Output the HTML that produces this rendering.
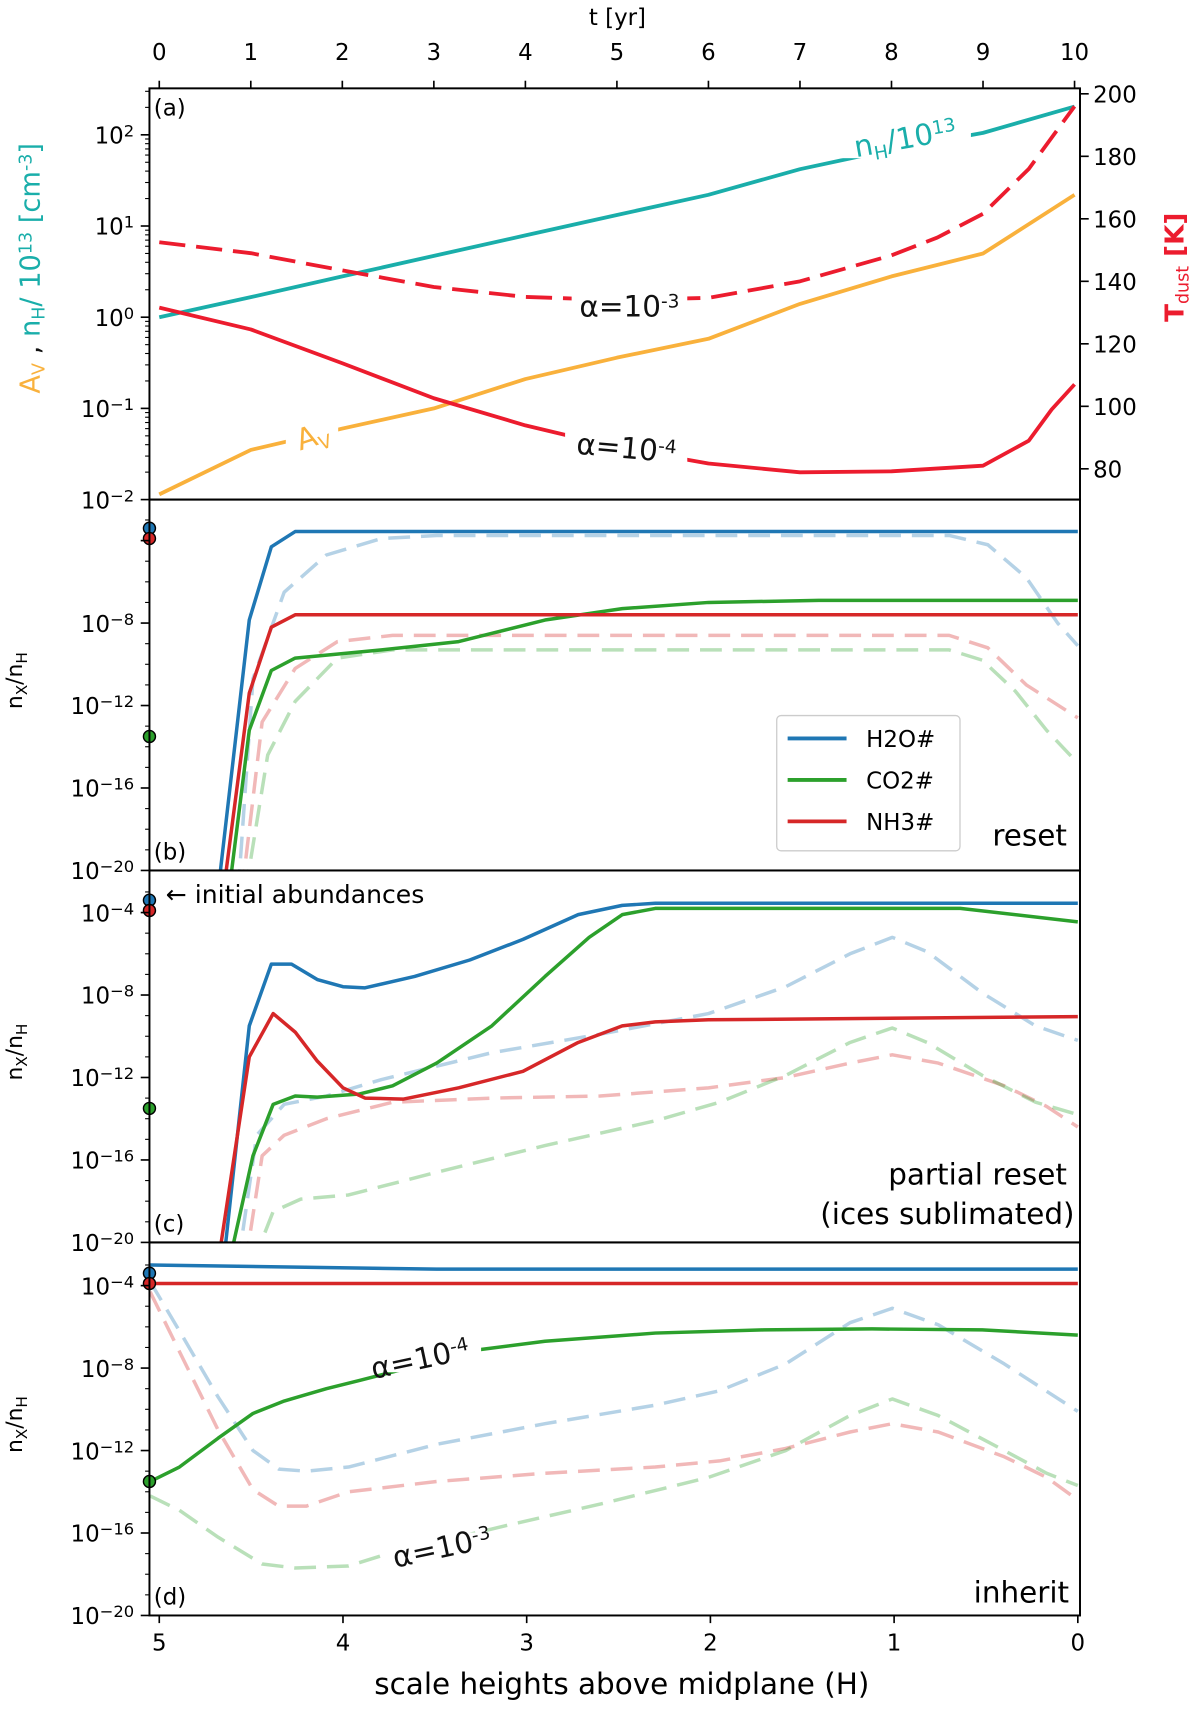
<!DOCTYPE html>
<html><head><meta charset="utf-8"><style>
html,body{margin:0;padding:0;background:#fff;}
svg{display:block;font-family:"DejaVu Sans","Liberation Sans",sans-serif;}
</style></head><body>
<svg id="fig" width="1200" height="1714" viewBox="0 0 1100 1571.33" preserveAspectRatio="none" xmlns="http://www.w3.org/2000/svg">
<defs>
<clipPath id="ca"><rect x="137" y="81" width="853" height="377"/></clipPath>
<clipPath id="cb"><rect x="137" y="458" width="853" height="340"/></clipPath>
<clipPath id="cc"><rect x="137" y="798" width="853" height="341"/></clipPath>
<clipPath id="cd"><rect x="137" y="1139" width="853" height="342"/></clipPath>
</defs>
<g id="layer"></g>
</svg>
<script>
// ---------- Panel (a) data ----------
const tYears = [0,1,2,3,4,5,6,7,8,9,10];
const nHvals = [1,1.66,2.8,4.7,7.9,13.2,22,42,69,105,204];
const AvVals = [0.0114,0.035,0.06,0.1,0.21,0.36,0.58,1.4,2.8,5,22];
const tTsolid = [0,1,2,3,4,5,6,7,8,9,9.5,9.75,10];
const TdustA4 = [131.6,124.6,113.8,102.6,93.9,86.9,81.7,78.9,79.2,81,89,99,107];
const tTdash = [0,1,2,3,4,5,6,7,8,8.5,9,9.5,10];
const TdustA3 = [152.5,149,143.5,138.2,135,134,134.7,140,148.3,154,161.6,176,196];
const tTicks = [0,1,2,3,4,5,6,7,8,9,10];
const TTicks = [80,100,120,140,160,180,200];
// ---------- Panel (b) reset (H, log10 abundance) ----------
const bH2O_H=[4.68,4.51,4.39,4.26,0], bH2O_v=[-21,-7.85,-4.3,-3.56,-3.56];
const bH2Od_H=[4.57,4.49,4.32,4.09,3.79,3.49,0.7,0.49,0.28,0.11,0], bH2Od_v=[-21,-10.7,-6.5,-4.7,-3.9,-3.75,-3.75,-4.2,-5.8,-8,-9.1];
const bNH3_H=[4.65,4.51,4.39,4.26,0], bNH3_v=[-21,-11.4,-8.2,-7.6,-7.6];
const bNH3d_H=[4.55,4.44,4.26,4.03,3.73,0.7,0.49,0.28,0], bNH3d_v=[-21,-12.8,-10.2,-8.9,-8.6,-8.6,-9.2,-11,-12.6];
const bCO2_H=[4.62,4.51,4.39,4.26,3.79,3.37,2.9,2.48,2.01,1.41,0], bCO2_v=[-21,-13.2,-10.3,-9.7,-9.3,-8.9,-7.85,-7.3,-7,-6.9,-6.9];
const bCO2d_H=[4.53,4.41,4.26,4.03,3.73,0.7,0.52,0.34,0.17,0], bCO2d_v=[-21,-14.4,-11.8,-9.7,-9.3,-9.3,-9.8,-11.3,-13.2,-14.8];
// ---------- Panel (c) partial reset ----------
const cH2O_H=[4.65,4.51,4.39,4.28,4.14,4.0,3.88,3.61,3.31,3.02,2.72,2.48,2.3,0], cH2O_v=[-21,-9.5,-6.5,-6.5,-7.25,-7.6,-7.65,-7.1,-6.3,-5.3,-4.1,-3.65,-3.55,-3.55];
const cCO2_H=[4.62,4.49,4.38,4.26,4.14,3.91,3.73,3.49,3.19,2.9,2.66,2.48,2.3,0.64,0], cCO2_v=[-21,-15.8,-13.3,-12.9,-12.95,-12.8,-12.4,-11.3,-9.5,-7.1,-5.2,-4.1,-3.8,-3.8,-4.45];
const cNH3_H=[4.68,4.51,4.38,4.26,4.14,4.0,3.88,3.67,3.37,3.02,2.72,2.48,2.3,2.01,0], cNH3_v=[-21,-11,-8.9,-9.8,-11.2,-12.5,-13,-13.05,-12.5,-11.7,-10.3,-9.5,-9.3,-9.2,-9.05];
const cH2Od_H=[4.57,4.47,4.32,4.09,3.79,3.19,2.6,2.01,1.59,1.24,1.01,0.82,0.52,0.23,0], cH2Od_v=[-21,-14.8,-13.3,-12.9,-12.1,-10.8,-9.9,-8.9,-7.6,-6,-5.2,-5.9,-7.9,-9.5,-10.2];
const cNH3d_H=[4.53,4.44,4.32,4.09,3.73,3.19,2.6,2.01,1.59,1.24,1.01,0.76,0.4,0.17,0], cNH3d_v=[-21,-15.8,-14.8,-14,-13.2,-13,-12.9,-12.5,-12,-11.3,-10.9,-11.3,-12.4,-13.4,-14.4];
const cCO2d_H=[4.49,4.38,4.23,3.97,3.49,2.9,2.3,1.95,1.59,1.24,1.01,0.82,0.52,0.23,0], cCO2d_v=[-21,-18.5,-17.9,-17.7,-16.6,-15.3,-14.1,-13.2,-11.9,-10.3,-9.6,-10.3,-11.9,-13.2,-13.8];
// ---------- Panel (d) inherit ----------
const dH2O_H=[5.05,3.49,0], dH2O_v=[-3.0,-3.2,-3.2];
const dNH3_H=[5.05,0], dNH3_v=[-3.9,-3.9];
const dCO2_H=[5.05,4.89,4.68,4.49,4.32,4.09,3.91,3.25,2.9,2.3,1.71,1.12,0.52,0], dCO2_v=[-13.5,-12.8,-11.4,-10.2,-9.6,-9.0,-8.6,-7.1,-6.7,-6.3,-6.15,-6.1,-6.15,-6.4];
const dH2Od_H=[5.05,4.89,4.68,4.49,4.35,4.2,3.97,3.49,2.9,2.3,1.95,1.59,1.24,1.01,0.76,0.4,0], dH2Od_v=[-3.8,-6.2,-9.4,-12,-12.9,-13,-12.8,-11.7,-10.7,-9.8,-9.1,-7.8,-5.8,-5.1,-5.9,-7.8,-10.1];
const dNH3d_H=[5.05,4.89,4.68,4.49,4.35,4.2,3.97,3.49,2.9,2.3,1.95,1.59,1.24,1.01,0.76,0.4,0.17,0], dNH3d_v=[-4.3,-7.2,-11,-13.9,-14.7,-14.7,-14,-13.5,-13.1,-12.8,-12.5,-11.9,-11.1,-10.7,-11.1,-12.3,-13.3,-14.4];
const dCO2d_H=[5.05,4.89,4.68,4.44,4.26,3.97,3.79,3.14,2.6,2.01,1.59,1.24,1.01,0.76,0.4,0.17,0], dCO2d_v=[-14.2,-14.9,-16.2,-17.5,-17.7,-17.6,-17.1,-15.7,-14.6,-13.3,-12,-10.3,-9.5,-10.3,-12,-13.1,-13.7];
const initH2O=-3.4, initNH3=-3.9, initCO2=-13.5;
const yLogTicks=[-20,-16,-12,-8,-4];

const NS='http://www.w3.org/2000/svg';
const layer=document.getElementById('layer');
function el(tag,attrs,parent){const e=document.createElementNS(NS,tag);for(const k in attrs)e.setAttribute(k,attrs[k]);(parent||layer).appendChild(e);return e;}
const L=137,R=990;
const xT=t=>146+t*83.9;
const xH=h=>146+(5-h)*168.4;
const yA=v=>458-(Math.log10(v)+2)*83.6;
const yT=T=>86+(200-T)/20*57.3;
const panels={b:{bot:798,top:458},c:{bot:1139,top:798},d:{bot:1481,top:1139}};
const yP=(p,lv)=>panels[p].bot-(lv+20)*18.9;
const C={blue:'#1f77b4',green:'#2ca02c',red:'#d62728',teal:'#1aaeaa',orange:'#f9b13c',tred:'#ec1c2e'};

function poly(xs,ys,fx,fy,style,clip,name){
  let d='';for(let i=0;i<xs.length;i++)d+=(i?'L':'M')+fx(xs[i]).toFixed(1)+','+fy(ys[i]).toFixed(1);
  const p=el('path',Object.assign({d:d,fill:'none','stroke-linejoin':'round','clip-path':'url(#'+clip+')'},style));
  
  
  return p;
}
function txt(x,y,s,attrs,name){const t=el('text',Object.assign({x:x,y:y},attrs||{}));t.innerHTML=s;
  
  return t;}

poly(tYears,nHvals,xT,yA,{stroke:C.teal,'stroke-width':3.5},'ca','nh-line');
poly(tYears,AvVals,xT,yA,{stroke:C.orange,'stroke-width':3.5},'ca','av-line');
poly(tTsolid,TdustA4,xT,yT,{stroke:C.tred,'stroke-width':3.5},'ca','tdust-alpha4-line');
poly(tTdash,TdustA3,xT,yT,{stroke:C.tred,'stroke-width':3.5,'stroke-dasharray':'24,10'},'ca','tdust-alpha3-line');
const wb=(x,y,w,h)=>{const r=el('rect',{x:x,y:y,width:w,height:h,fill:'#fff'});};
wb(770,100,120,45);
txt(830,136,'n<tspan baseline-shift="-30%" font-size="17">H</tspan>/10<tspan baseline-shift="45%" font-size="17">13</tspan>',{fill:C.teal,'font-size':27,'text-anchor':'middle',transform:'rotate(-10 830 128)'},'nh-label');
wb(524,265,106,30);
txt(577,290,'α=10<tspan baseline-shift="45%" font-size="17">-3</tspan>',{fill:'#111','font-size':27,'text-anchor':'middle'},'alpha3-label-a');
wb(518,397,112,34);
txt(574,420,'α=10<tspan baseline-shift="45%" font-size="17">-4</tspan>',{fill:'#111','font-size':27,'text-anchor':'middle',transform:'rotate(5 574 413)'},'alpha4-label-a');
wb(262,378,48,36);
txt(286,409,'A<tspan baseline-shift="-30%" font-size="17">V</tspan>',{fill:C.orange,'font-size':27,'text-anchor':'middle',transform:'rotate(-18 286 398)'},'av-label');

function ser(p,H,v,color,dashed,name){
  const st={stroke:color,'stroke-width':3.2};
  if(dashed){st['stroke-dasharray']='20,10';st['stroke-opacity']=0.33;}
  poly(H,v,xH,lv=>yP(p,lv),st,'c'+p,name);
}
ser('b',bH2Od_H,bH2Od_v,C.blue,1,'b-h2o-dashed');ser('b',bNH3d_H,bNH3d_v,C.red,1,'b-nh3-dashed');ser('b',bCO2d_H,bCO2d_v,C.green,1,'b-co2-dashed');
ser('b',bH2O_H,bH2O_v,C.blue,0,'b-h2o');ser('b',bCO2_H,bCO2_v,C.green,0,'b-co2');ser('b',bNH3_H,bNH3_v,C.red,0,'b-nh3');
ser('c',cH2Od_H,cH2Od_v,C.blue,1,'c-h2o-dashed');ser('c',cNH3d_H,cNH3d_v,C.red,1,'c-nh3-dashed');ser('c',cCO2d_H,cCO2d_v,C.green,1,'c-co2-dashed');
ser('c',cH2O_H,cH2O_v,C.blue,0,'c-h2o');ser('c',cCO2_H,cCO2_v,C.green,0,'c-co2');ser('c',cNH3_H,cNH3_v,C.red,0,'c-nh3');
ser('d',dH2Od_H,dH2Od_v,C.blue,1,'d-h2o-dashed');ser('d',dNH3d_H,dNH3d_v,C.red,1,'d-nh3-dashed');ser('d',dCO2d_H,dCO2d_v,C.green,1,'d-co2-dashed');
ser('d',dH2O_H,dH2O_v,C.blue,0,'d-h2o');ser('d',dNH3_H,dNH3_v,C.red,0,'d-nh3');ser('d',dCO2_H,dCO2_v,C.green,0,'d-co2');
wb(333,1228,108,30);
txt(385,1255,'α=10<tspan baseline-shift="45%" font-size="17">-4</tspan>',{fill:'#111','font-size':27,'text-anchor':'middle',transform:'rotate(-12 385 1245)'},'alpha4-label-d');
wb(355,1405,102,28);
txt(405,1428,'α=10<tspan baseline-shift="45%" font-size="17">-3</tspan>',{fill:'#111','font-size':27,'text-anchor':'middle',transform:'rotate(-12 405 1418)'},'alpha3-label-d');

['b','c','d'].forEach(p=>{
  [[initH2O,C.blue],[initNH3,C.red],[initCO2,C.green]].forEach((m,i)=>{
    const c=el('circle',{cx:L,cy:yP(p,m[0]),r:5.5,fill:m[1],stroke:'#000','stroke-width':1.3});
    
    
  });
});

[[81,458,'panel-a-frame'],[458,798,'panel-b-frame'],[798,1139,'panel-c-frame'],[1139,1481,'panel-d-frame']].forEach(f=>{
  const r=el('rect',{x:L,y:f[0],width:R-L,height:f[1]-f[0],fill:'none',stroke:'#000','stroke-width':1.8});
  
  
});
const FS=21;
tTicks.forEach(t=>{
  el('line',{x1:xT(t),x2:xT(t),y1:81,y2:74,stroke:'#000','stroke-width':1.5});
  txt(xT(t),55,String(t),{'font-size':FS,'text-anchor':'middle'},'t-tick-label');
});
txt(566,23,'t [yr]',{'font-size':FS,'text-anchor':'middle'},'t-axis-title');
for(let e=-2;e<=2;e++){
  const y=yA(Math.pow(10,e));
  el('line',{x1:L,x2:L-8,y1:y,y2:y,stroke:'#000','stroke-width':1.5});
  txt(L-14,y+8,'10<tspan baseline-shift="45%" font-size="15">'+(e<0?'−'+(-e):e)+'</tspan>',{'font-size':FS,'text-anchor':'end'},'a-ytick-label');
  for(let k=2;k<10;k++){const v=k*Math.pow(10,e);if(v>Math.pow(10,2.51))break;const yy=yA(v);
    el('line',{x1:L,x2:L-4,y1:yy,y2:yy,stroke:'#000','stroke-width':1});}
}
TTicks.forEach(T=>{const y=yT(T);
  el('line',{x1:R,x2:R+8,y1:y,y2:y,stroke:'#000','stroke-width':1.5});
  txt(R+12,y+8,String(T),{'font-size':FS},'t-dust-tick-label');
});
txt(1090,250,'T<tspan baseline-shift="-30%" font-size="16" font-weight="normal">dust</tspan> [K]',{'font-size':24,'font-weight':'bold',fill:C.tred,'text-anchor':'middle',transform:'rotate(-90 1085 250)'},'tdust-axis-title');
txt(40,250,'<tspan fill="'+C.orange+'">A<tspan baseline-shift="-30%" font-size="16">V</tspan></tspan><tspan fill="#111"> , </tspan><tspan fill="'+C.teal+'">n<tspan baseline-shift="-30%" font-size="16">H</tspan>/ 10<tspan baseline-shift="45%" font-size="16">13</tspan> [cm<tspan baseline-shift="45%" font-size="16">-3</tspan>]</tspan>',{'font-size':25,'text-anchor':'middle',transform:'rotate(-90 36 250)'},'a-left-axis-title');
['b','c','d'].forEach(p=>{
  yLogTicks.forEach(lv=>{const y=yP(p,lv);
    el('line',{x1:L,x2:L-8,y1:y,y2:y,stroke:'#000','stroke-width':1.5});
    if(!(p==='b'&&lv===-4))txt(L-14,y+8,'10<tspan baseline-shift="45%" font-size="15">−'+(-lv)+'</tspan>',{'font-size':FS,'text-anchor':'end'},p+'-ytick-label');
  });
  for(let lv=-19;lv<=-3;lv++){if(lv%4===0)continue;const y=yP(p,lv);el('line',{x1:L,x2:L-4,y1:y,y2:y,stroke:'#000','stroke-width':1});}
  const cy=(panels[p].top+panels[p].bot)/2;
  txt(24,cy,'n<tspan baseline-shift="-30%" font-size="14">X</tspan>/n<tspan baseline-shift="-30%" font-size="14">H</tspan>',{'font-size':20,'text-anchor':'middle',transform:'rotate(-90 20 '+cy+')'},p+'-y-axis-title');
});
[5,4,3,2,1,0].forEach(h=>{
  el('line',{x1:xH(h),x2:xH(h),y1:1481,y2:1488,stroke:'#000','stroke-width':1.5});
  txt(xH(h),1513,String(h),{'font-size':FS,'text-anchor':'middle'},'h-tick-label');
});
txt(570,1553,'scale heights above midplane (H)',{'font-size':27,'text-anchor':'middle'},'x-axis-title');
txt(141,106,'(a)',{'font-size':21},'panel-a-letter');
txt(141,788,'(b)',{'font-size':21},'panel-b-letter');
txt(141,1129,'(c)',{'font-size':21},'panel-c-letter');
txt(141,1471,'(d)',{'font-size':21},'panel-d-letter');
txt(978,775,'reset',{'font-size':27,'text-anchor':'end'},'reset-label');
txt(978,1086,'partial reset',{'font-size':27,'text-anchor':'end'},'partial-reset-label');
txt(985,1122,'(ices sublimated)',{'font-size':27,'text-anchor':'end'},'ices-sublimated-label');
txt(980,1469,'inherit',{'font-size':27,'text-anchor':'end'},'inherit-label');
txt(152,828,'← initial abundances',{'font-size':23},'initial-abundances-note');
const lg=el('rect',{x:712,y:656,width:168,height:124,rx:4,fill:'#fff',stroke:'#ccc','stroke-width':1.2});


[['H2O#',C.blue,677],['CO2#',C.green,715],['NH3#',C.red,753]].forEach(e=>{
  const l=el('line',{x1:722,x2:776,y1:e[2],y2:e[2],stroke:e[1],'stroke-width':3.5});
  
  
  txt(794,e[2]+8,e[0],{'font-size':21},'legend-entry');
});
</script>
</body></html>
